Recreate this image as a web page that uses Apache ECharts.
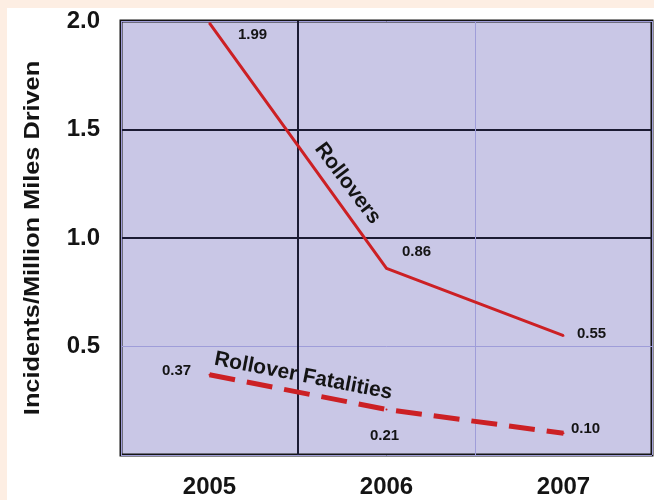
<!DOCTYPE html>
<html><head><meta charset="utf-8">
<script src="https://cdn.jsdelivr.net/npm/echarts@6/dist/echarts.min.js"></script>
<style>
html,body{margin:0;padding:0;}
#wrap{position:relative;width:654px;height:500px;background:#fdeee3;overflow:hidden}
#chart{position:absolute;left:7px;top:8px;width:647px;height:492px;background:#ffffff}
</style></head>
<body><div id="wrap"><div id="chart"></div></div>
<script>
// ---- data ----
const years = ['2005', '2006', '2007'];
const rollovers = [1.99, 0.86, 0.55];
const fatalities = [0.37, 0.21, 0.10];
const yMin = 0, yMax = 2.0, yStep = 0.5;
const yAxisTitle = 'Incidents/Million Miles Driven';
const rolloverName = 'Rollovers';
const fatalityName = 'Rollover Fatalities';

// ---- styles ----
const FONT = '"Liberation Sans", Arial, sans-serif';
const RED = '#cc2024';
const DARK = '#1b1b33';
const LIGHT = '#9f9dd9';
const TXT = '#141414';

const rollLabelOffsets = [[43, 12], [30, -17], [28, -2]];
const fatLabelOffsets = [[-33, -4], [-2, 26], [22, -4]];

function mkData(vals, offs) {
  return vals.map((v, i) => ({
    value: v,
    label: { offset: offs[i] }
  }));
}
const dataLabel = {
  show: true, position: 'inside', color: TXT,
  fontFamily: FONT, fontWeight: 'bold', fontSize: 15,
  formatter: p => p.value.toFixed(2)
};

const chart = echarts.init(document.getElementById('chart'), null, { renderer: 'canvas' });
const option = {
  animation: false,
  backgroundColor: 'transparent',
  grid: {
    left: 114, top: 13, right: 2, bottom: 45,
    show: true, backgroundColor: '#c9c7e6',
    borderColor: '#141414', borderWidth: 3
  },
  xAxis: [{
    type: 'category', data: years, boundaryGap: true,
    axisLine: { show: false }, axisTick: { show: false },
    axisLabel: { color: TXT, fontFamily: FONT, fontWeight: 'bold', fontSize: 24, margin: 20 },
    splitLine: { show: true, lineStyle: { color: LIGHT, width: 1 } }
  }, {
    type: 'category', data: years, boundaryGap: true, position: 'bottom',
    axisLine: { show: false }, axisTick: { show: false }, axisLabel: { show: false },
    splitLine: { show: true, lineStyle: { color: ['transparent', DARK, 'transparent', 'transparent'], width: 2 } }
  }],
  yAxis: [{
    type: 'value', min: yMin, max: yMax, interval: yStep,
    axisLine: { show: false }, axisTick: { show: false },
    axisLabel: {
      color: TXT, fontFamily: FONT, fontWeight: 'bold', fontSize: 24, margin: 21,
      formatter: v => v === 0 ? '' : v.toFixed(1)
    },
    splitLine: { show: true, lineStyle: { color: LIGHT, width: 1 } }
  }, {
    type: 'value', min: yMin, max: yMax, interval: yStep, position: 'left',
    axisLine: { show: false }, axisTick: { show: false }, axisLabel: { show: false },
    splitLine: { show: true, lineStyle: { color: ['transparent', 'transparent', DARK, DARK, 'transparent'], width: 2 } }
  }],
  series: [{
    name: rolloverName, type: 'line',
    data: mkData(rollovers, rollLabelOffsets),
    symbol: 'circle', symbolSize: 2,
    itemStyle: { color: RED },
    lineStyle: { color: RED, width: 3 },
    label: dataLabel, z: 5
  }, {
    name: fatalityName, type: 'line',
    data: mkData(fatalities, fatLabelOffsets),
    symbol: 'circle', symbolSize: 2,
    itemStyle: { color: RED },
    lineStyle: { color: RED, width: 5, type: [26, 12] },
    label: dataLabel, z: 5
  }]
};
chart.setOption(option);

// ---- annotations, positioned from the axes ----
function px(i, v) { return chart.convertToPixel({ gridIndex: 0 }, [i, v]); }
function lerp(a, b, t) { return [a[0] + (b[0] - a[0]) * t, a[1] + (b[1] - a[1]) * t]; }
const r0 = px(0, rollovers[0]), r1 = px(1, rollovers[1]);
const f0 = px(0, fatalities[0]), f1 = px(1, fatalities[1]);
const rPos = lerp(r0, r1, 0.78);
const fPos = lerp(f0, f1, 0.53);
const midY = px(0, (yMin + yMax) / 2)[1];
chart.setOption({
  graphic: [{
    type: 'text', x: 26, y: midY,
    rotation: Math.PI / 2, scaleX: 1.15, z: 10,
    style: { text: yAxisTitle, fill: TXT, font: 'bold 22px ' + FONT, align: 'center', verticalAlign: 'middle' }
  }, {
    type: 'text', x: rPos[0], y: rPos[1] - 31,
    rotation: -53 * Math.PI / 180, z: 10,
    style: { text: rolloverName, fill: TXT, font: 'bold 21px ' + FONT, align: 'center', verticalAlign: 'middle' }
  }, {
    type: 'text', x: fPos[0], y: fPos[1] - 17,
    rotation: -11 * Math.PI / 180, z: 10,
    style: { text: fatalityName, fill: TXT, font: 'bold 21px ' + FONT, align: 'center', verticalAlign: 'middle' }
  }]
});
</script>
</body></html>
